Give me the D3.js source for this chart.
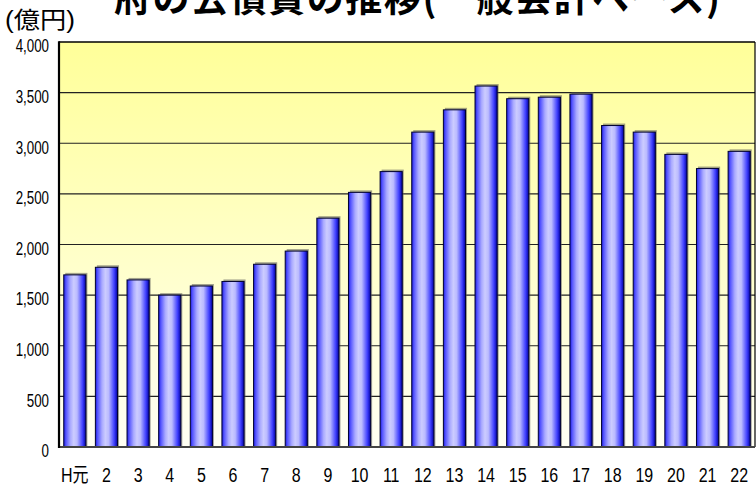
<!DOCTYPE html>
<html><head><meta charset="utf-8">
<script src="https://cdn.jsdelivr.net/npm/d3@7"></script>
<style>
html,body{margin:0;padding:0;background:#fff;}
svg{display:block;}
</style></head>
<body>
<svg id="chart" width="756" height="488"></svg>
<script>
const categories = ["H元","2","3","4","5","6","7","8","9","10","11","12","13","14","15","16","17","18","19","20","21","22"];
const values = [1700,1775,1650,1500,1590,1635,1805,1935,2260,2515,2720,3110,3330,3565,3440,3455,3485,3175,3110,2890,2750,2920];
const yTicks = [0,500,1000,1500,2000,2500,3000,3500,4000];
const titleText = "府の公債費の推移(一般会計ベース)";
const unitText = "(億円)";

const W = 756, H = 488;
const L = 59, R = 755, T = 42, B = 447;
const sans = "'Liberation Sans',Arial,'Noto Sans CJK JP',sans-serif";

const svg = d3.select("#chart");
const defs = svg.append("defs");

function condense(sel, factor) {
  sel.each(function() {
    const w = this.getComputedTextLength();
    d3.select(this).attr("textLength", w * factor).attr("lengthAdjust", "spacingAndGlyphs");
  });
}

const bg = defs.append("linearGradient").attr("id","bg").attr("x1",0).attr("y1",0).attr("x2",0).attr("y2",1);
bg.append("stop").attr("offset","0%").attr("stop-color","#ffff99");
bg.append("stop").attr("offset","100%").attr("stop-color","#fffff4");

const bar = defs.append("linearGradient").attr("id","bar").attr("x1",0).attr("y1",0).attr("x2",1).attr("y2",0);
[[0,"#1a1ad8"],[0.1,"#5555ff"],[0.3,"#aaaaff"],[0.45,"#ccccff"],[0.6,"#bbbbff"],[0.85,"#4040ff"],[1,"#0000a0"]]
  .forEach(([o,c]) => bar.append("stop").attr("offset", o).attr("stop-color", c));

const x = d3.scaleBand().domain(categories).range([L,R]).paddingInner(0.3).paddingOuter(0.15);
const y = d3.scaleLinear().domain([0,4000]).range([B,T]);

// plot background
svg.append("rect").attr("x",L).attr("y",T).attr("width",R-L).attr("height",B-T).attr("fill","url(#bg)");

// gridlines
svg.append("g").selectAll("line").data(yTicks.filter(d => d>0 && d<4000)).join("line")
  .attr("x1",L).attr("x2",R).attr("y1",d=>y(d)).attr("y2",d=>y(d))
  .attr("stroke","#222").attr("stroke-width",1.2);

// bar shadows
svg.append("g").selectAll("rect").data(values).join("rect")
  .attr("x",(d,i)=>x(categories[i])+1.5).attr("y",d=>y(d)-2)
  .attr("width",x.bandwidth()).attr("height",d=>B-y(d)+2)
  .attr("fill","#555").attr("opacity",0.55);

// bars
svg.append("g").selectAll("rect").data(values).join("rect")
  .attr("x",(d,i)=>x(categories[i])).attr("y",d=>y(d))
  .attr("width",x.bandwidth()).attr("height",d=>B-y(d))
  .attr("fill","url(#bar)").attr("stroke","#000030").attr("stroke-width",1);

// plot border
svg.append("line").attr("x1",L).attr("x2",R).attr("y1",T).attr("y2",T).attr("stroke","#000").attr("stroke-width",1.5);
svg.append("line").attr("x1",R).attr("x2",R).attr("y1",T).attr("y2",B).attr("stroke","#000").attr("stroke-width",1.2);
svg.append("line").attr("x1",L).attr("x2",R).attr("y1",B).attr("y2",B).attr("stroke","#444").attr("stroke-width",2);
svg.append("line").attr("x1",L).attr("x2",L).attr("y1",T-0.75).attr("y2",B+1).attr("stroke","#000").attr("stroke-width",2.2);

// y axis
const yAxis = d3.axisLeft(y).tickValues(yTicks).tickSize(0).tickPadding(0).tickFormat(d3.format(","));
const ya = svg.append("g").attr("transform",`translate(${L-10},4)`).call(yAxis);
ya.select(".domain").remove();
ya.selectAll("text").attr("font-family",sans).attr("font-size",18).attr("fill","#000");
condense(ya.selectAll("text"), 0.74);

// x axis
const xAxis = d3.axisBottom(x).tickSize(0).tickPadding(0);
const xa = svg.append("g").attr("transform",`translate(0,482)`).call(xAxis);
xa.select(".domain").remove();
xa.selectAll("text").attr("dy",null).attr("y",0).attr("font-family",sans).attr("font-size",20).attr("fill","#000");
condense(xa.selectAll("text"), 0.8);

// unit label
svg.append("text").attr("x",5).attr("y",28).text(unitText)
  .attr("font-family",sans).attr("font-size",23)
  .attr("textLength",70).attr("lengthAdjust","spacingAndGlyphs").attr("fill","#000");

// title
svg.append("text").attr("x",114).attr("y",12).text(titleText)
  .attr("font-family","'Noto Sans CJK JP',sans-serif").attr("font-weight","bold").attr("font-size",37)
  .attr("textLength",606).attr("lengthAdjust","spacing").attr("fill","#000");
</script>
</body></html>
